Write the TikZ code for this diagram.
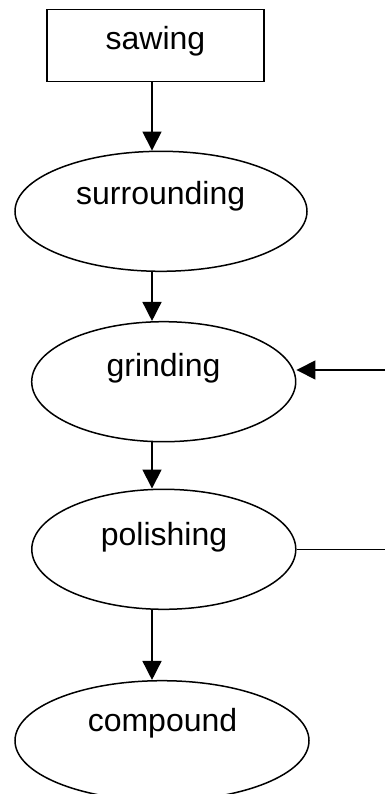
\documentclass[tikz,border=0pt]{standalone}
\usepackage{fontspec}
\setmainfont{Liberation Sans}
\usetikzlibrary{shapes.geometric,arrows.meta}
\begin{document}
\begin{tikzpicture}[x=1pt, y=-1pt, line width=1.5pt,
  stepbox/.style={draw, rectangle, inner sep=0pt, minimum width=217pt, minimum height=72pt},
  stage/.style={draw, ellipse, inner sep=0pt, minimum height=120pt},
  txt/.style={anchor=base, inner sep=0pt, font=\fontsize{32pt}{36pt}\selectfont},
  arr/.style={-{Triangle[length=19pt,width=19pt]}}
]
\useasboundingbox (0,0) rectangle (385,794);
\clip (0,0) rectangle (385,794);

% process stages
\node[stepbox] (saw) at (155.7,45.5) {};
\node[stage, minimum width=292pt] (sur) at (161,211.3) {};
\node[stage, minimum width=264pt] (gri) at (163.7,381.7) {};
\node[stage, minimum width=264pt] (pol) at (163.8,549.3) {};
\node[stage, minimum width=294pt] (com) at (162,740.7) {};

% stage labels
\node[txt] (sawt) at (155.5,50) {sawing};
\node[txt] (surt) at (160.7,205) {surrounding};
\node[txt] (grit) at (163.5,376.7) {grinding};
\node[txt] (polt) at (164,545) {polishing};
\node[txt] (comt) at (162.5,731.7) {compound};

% flow axis and return loop end
\coordinate (ax) at (152,0);
\coordinate (fb) at (385,370);

\draw[arr] (saw.south -| ax) -- (sur.north -| ax);
\draw[arr] (sur.south -| ax) -- (gri.north -| ax);
\draw[arr] (gri.south -| ax) -- (pol.north -| ax);
\draw[arr] (pol.south -| ax) -- (com.north -| ax);

\draw[arr] (fb) -- (fb -| gri.east);
\draw (pol.east) -- (pol.east -| fb);
\end{tikzpicture}
\end{document}
